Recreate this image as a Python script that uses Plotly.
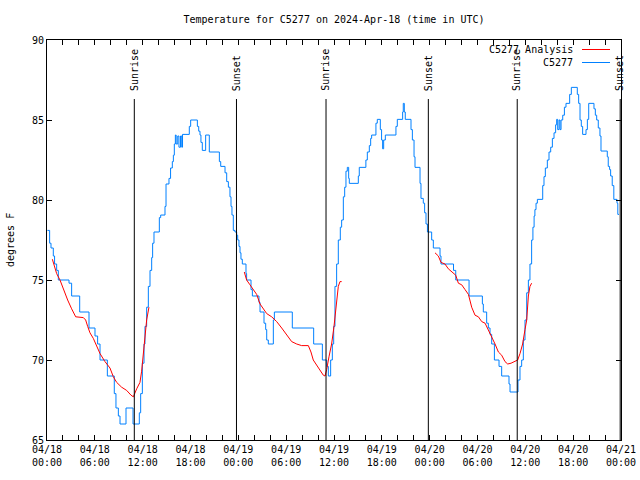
import pandas as pd
import plotly.graph_objects as go

BASE = pd.Timestamp("2024-04-18 00:00")

# C5277 observations: hours since 04/18 00:00 UTC and temperature (F); value holds until next point
obs_hours = [0.05, 0.33, 0.5, 0.79, 0.95, 1.21, 1.42, 2.76, 3.09, 4.1, 5.27, 6.02, 6.35, 6.65, 7.57, 8.44,
             8.65, 8.95, 9.16, 9.91, 10.79, 11.58, 11.75, 11.96, 12.17, 12.29, 12.5, 12.71, 12.92, 13.13,
             13.25, 13.42, 14.09, 14.26, 14.8, 14.93, 15.3, 15.5, 15.72, 15.85, 15.97, 16.1, 16.2, 16.4,
             16.55, 16.75, 16.9, 17.0, 17.85, 18.02, 18.86, 19.03, 19.19, 19.31, 19.48, 19.9, 20.36,
             21.62, 21.79, 22.33, 22.54, 22.75, 22.95, 23.08, 23.2, 23.37, 23.58, 23.79, 23.92, 24.08,
             24.21, 24.33, 24.5, 24.96, 25.04, 25.59, 25.76, 26.59, 26.72, 27.22, 27.43, 27.56, 27.76,
             28.39, 28.52, 30.77, 33.45, 34.54, 35.08, 35.29, 35.58, 35.79, 35.96, 36.12, 36.33, 36.54,
             36.79, 36.96, 37.17, 37.34, 37.5, 37.67, 37.84, 37.92, 39.05, 39.17, 40.0, 40.18, 40.43,
             40.6, 40.72, 41.26, 41.43, 41.81, 41.97, 42.1, 42.23, 42.44, 43.77, 43.94, 44.61, 44.69,
             44.82, 44.94, 45.66, 45.83, 46.04, 46.16, 46.79, 46.91, 47.2, 47.37, 47.54, 47.72, 48.25,
             48.46, 49.3, 49.42, 50.99, 51.27, 52.94, 54.61, 54.73, 55.15, 55.36, 55.57, 55.78, 56.12,
             56.7, 57.03, 57.95, 58.08, 59.08, 59.33, 59.54, 59.75, 59.96, 60.17, 60.38, 60.58, 60.79,
             60.95, 61.1, 61.2, 61.34, 61.51, 62.18, 62.34, 62.51, 62.76, 62.97, 63.18, 63.39, 63.6,
             63.8, 63.93, 64.06, 64.23, 64.35, 64.48, 64.69, 64.9, 65.1, 65.56, 65.77, 66.52, 66.69,
             66.86, 67.02, 67.19, 67.61, 67.78, 67.95, 68.61, 68.78, 68.95, 69.15, 69.36, 69.49, 70.28,
             70.4, 70.57, 70.7, 70.9, 71.1, 71.5, 71.6, 71.75]
obs_temp = [78.1, 77.3, 77.0, 76.5, 76.0, 75.6, 75.0, 74.8, 74.0, 73.0, 72.0, 71.5, 71.0, 70.0, 69.0, 67.9,
            67.0, 66.5, 66.0, 67.0, 66.0, 66.7, 67.9, 69.8, 71.0, 72.1, 73.3, 74.6, 75.6, 76.4,
            77.3, 78.0, 78.9, 79.06, 79.6, 81.0, 81.35, 82.0, 82.4, 82.8, 83.5, 84.06, 83.5, 84.0,
            83.3, 84.0, 83.3, 84.1, 84.6, 85.0, 84.6, 84.3, 84.06, 83.6, 83.1, 84.06, 83.0,
            82.4, 82.1, 81.7, 81.15, 80.8, 80.2, 79.6, 79.06, 78.1, 78.0, 77.8, 77.5, 77.1,
            76.7, 76.3, 76.0, 75.4, 75.0, 74.4, 74.0, 73.6, 73.0, 72.3, 71.9, 71.25, 71.0,
            72.5, 73.0, 72.0, 71.0, 70.0, 69.6, 69.0, 70.0, 71.0, 72.1, 74.6, 76.0, 77.5,
            78.3, 78.75, 80.2, 80.8, 81.8, 82.04, 81.35, 81.04, 81.5, 82.04, 82.5, 83.0, 83.4,
            83.85, 84.06, 84.8, 85.04, 84.4, 83.75, 83.2, 83.75, 84.06, 84.6, 85.04, 85.5, 86.04,
            85.5, 85.04, 84.4, 83.75, 82.7, 82.04, 81.04, 80.1, 79.8, 79.2, 78.5, 78.0, 77.5,
            77.0, 76.5, 76.0, 75.6, 75.0, 74.0, 73.5, 73.0, 72.3, 72.0, 71.6, 71.0, 70.0,
            69.6, 69.0, 68.5, 68.0, 68.75, 69.6, 70.0, 71.25, 72.5, 74.2, 75.0, 76.0, 77.5,
            78.3, 79.0, 79.4, 79.8, 80.04, 80.9, 81.46, 82.0, 82.5, 83.0, 83.3, 83.85, 84.2,
            84.7, 85.04, 84.4, 85.0, 84.4, 85.0, 85.3, 85.8, 86.04, 86.6, 87.04, 86.6, 86.04,
            85.0, 84.6, 84.1, 84.4, 85.04, 86.04, 85.7, 85.3, 85.0, 84.5, 84.0, 83.06, 82.7,
            82.1, 81.9, 81.5, 80.9, 80.04, 79.8, 79.1, 79.1]

# C5277 Analysis: three overnight segments
ana1_hours = [0.67, 0.92, 1.21, 1.63, 1.84, 2.17, 2.59, 3.09, 3.6, 4.56, 4.85, 5.1, 5.39, 5.81, 6.23, 6.65,
              7.27, 7.9, 8.32, 8.74, 9.36, 9.99, 10.54, 10.83, 11.25, 11.66, 11.87, 12.08, 12.29, 12.5, 12.79]
ana1_temp = [76.3, 75.9, 75.4, 75.0, 74.7, 74.3, 73.75, 73.2, 72.7, 72.65, 72.5, 72.1, 71.7, 71.35, 70.9, 70.4,
             69.9, 69.5, 68.95, 68.6, 68.3, 68.1, 67.8, 67.7, 68.2, 68.6, 69.3, 70.4, 71.6, 72.5, 73.3]
ana2_hours = [24.75, 25.04, 25.46, 25.88, 26.3, 26.72, 27.14, 27.56, 28.18, 28.81, 29.44, 30.06, 30.69,
              31.32, 31.94, 32.78, 33.11, 33.4, 33.82, 34.24, 34.66, 34.87, 35.08, 35.37, 35.7, 36.0,
              36.25, 36.54, 36.75, 36.96]
ana2_temp = [75.5, 75.0, 74.7, 74.4, 74.1, 73.5, 73.2, 72.9, 72.7, 72.4, 72.0, 71.6, 71.15,
             71.0, 70.9, 70.9, 70.5, 70.0, 69.7, 69.4, 69.05, 69.0, 69.4, 70.2, 71.0, 72.1,
             73.3, 74.6, 74.9, 74.9]
ana3_hours = [48.67, 49.09, 49.42, 49.92, 50.34, 50.76, 51.27, 51.6, 52.02, 52.44, 52.86, 53.27, 53.69,
              54.11, 54.53, 54.95, 55.36, 55.78, 56.2, 56.62, 57.03, 57.45, 57.79, 58.21, 58.71, 59.04,
              59.33, 59.66, 59.96, 60.17, 60.38, 60.58, 60.79]
ana3_temp = [76.7, 76.5, 76.1, 76.0, 75.7, 75.5, 75.3, 74.8, 74.7, 74.4, 74.1, 73.3, 72.8,
             72.7, 72.4, 72.3, 71.9, 71.5, 71.0, 70.5, 70.3, 69.9, 69.75, 69.8, 69.95, 70.0,
             70.4, 71.0, 71.9, 72.5, 74.0, 74.6, 74.8]

sun_events = ["Sunrise", "Sunset", "Sunrise", "Sunset", "Sunrise", "Sunset"]
sun_times = ["2024-04-18 10:57", "2024-04-18 23:46", "2024-04-19 11:00",
             "2024-04-19 23:50", "2024-04-20 10:59", "2024-04-20 23:54"]

tick_hours = list(range(0, 73, 2))

FONT = "DejaVu Sans Mono"
RED = "#ff0000"
BLUE = "#0080ff"


def to_time(hours):
    return [BASE + pd.Timedelta(hours=h) for h in hours]


ana_x, ana_y = [], []
for hh, tt in [(ana1_hours, ana1_temp), (ana2_hours, ana2_temp), (ana3_hours, ana3_temp)]:
    ana_x += to_time(hh) + [None]
    ana_y += tt + [None]

fig = go.Figure()
fig.add_trace(go.Scatter(x=to_time(obs_hours), y=obs_temp, mode="lines", line=dict(color=BLUE, width=1, shape="hv"),
                         name="C5277", showlegend=False))
fig.add_trace(go.Scatter(x=ana_x, y=ana_y, mode="lines", line=dict(color=RED, width=1),
                         name="C5277 Analysis", showlegend=False, connectgaps=False))

for ev, t in zip(sun_events, sun_times):
    fig.add_shape(type="line", xref="x", yref="paper", x0=t, x1=t, y0=0, y1=0.8525,
                  line=dict(color="black", width=1))
    fig.add_annotation(x=t, xref="x", yref="paper", y=0.868, yanchor="bottom", xanchor="center",
                       text=ev, textangle=-90, showarrow=False, font=dict(family=FONT, size=10, color="black"))

# manual legend (text left of sample, as in the reference)
legend_items = [("C5277 Analysis", RED), ("C5277", BLUE)]
legend_py = [49.5, 62.5]
for (name, col), py in zip(legend_items, legend_py):
    yp = (440 - py) / 400
    fig.add_annotation(x=(575 - 47) / 574, y=yp, xref="paper", yref="paper", xanchor="right", yanchor="middle",
                       text=name, showarrow=False, font=dict(family=FONT, size=10, color="black"))
    fig.add_shape(type="line", xref="paper", yref="paper", x0=(582 - 47) / 574, x1=(610 - 47) / 574,
                  y0=yp, y1=yp, line=dict(color=col, width=1))

tick_vals = [BASE + pd.Timedelta(hours=h) for h in tick_hours]
tick_text = [(BASE + pd.Timedelta(hours=h)).strftime("%m/%d<br>%H:%M") if h % 6 == 0 else "" for h in tick_hours]

fig.add_annotation(x=0, xref="paper", xshift=-37, xanchor="center", y=0.5, yref="paper", yanchor="middle",
                   text="degrees F", textangle=-90,
                   showarrow=False, font=dict(family=FONT, size=10, color="black"))

fig.update_layout(
    width=640, height=480,
    margin=dict(l=47, r=19, t=40, b=40, autoexpand=False),
    paper_bgcolor="white", plot_bgcolor="white",
    font=dict(family=FONT, size=10, color="black"),
    title=dict(text="Temperature for C5277 on 2024-Apr-18 (time in UTC)", x=0.5, xref="paper", xanchor="center",
               y=1 - 19 / 480, yanchor="middle", font=dict(family=FONT, size=10, color="black")),
    xaxis=dict(range=[BASE, BASE + pd.Timedelta(hours=72)], tickvals=tick_vals, ticktext=tick_text,
               ticks="inside", ticklen=5, tickcolor="black", showline=True, linecolor="black", linewidth=1,
               mirror="ticks", showgrid=False, zeroline=False, tickfont=dict(family=FONT, size=10),
               automargin=False),
    yaxis=dict(range=[65, 90], dtick=5, ticks="inside", ticklen=5, tickcolor="black", showline=True,
               linecolor="black", linewidth=1, mirror="ticks", showgrid=False, zeroline=False,
               tickfont=dict(family=FONT, size=10), automargin=False),
)

fig.write_html("out.html", config={"displayModeBar": False},
               post_script="document.body.style.margin='0';document.body.style.overflow='hidden';")
